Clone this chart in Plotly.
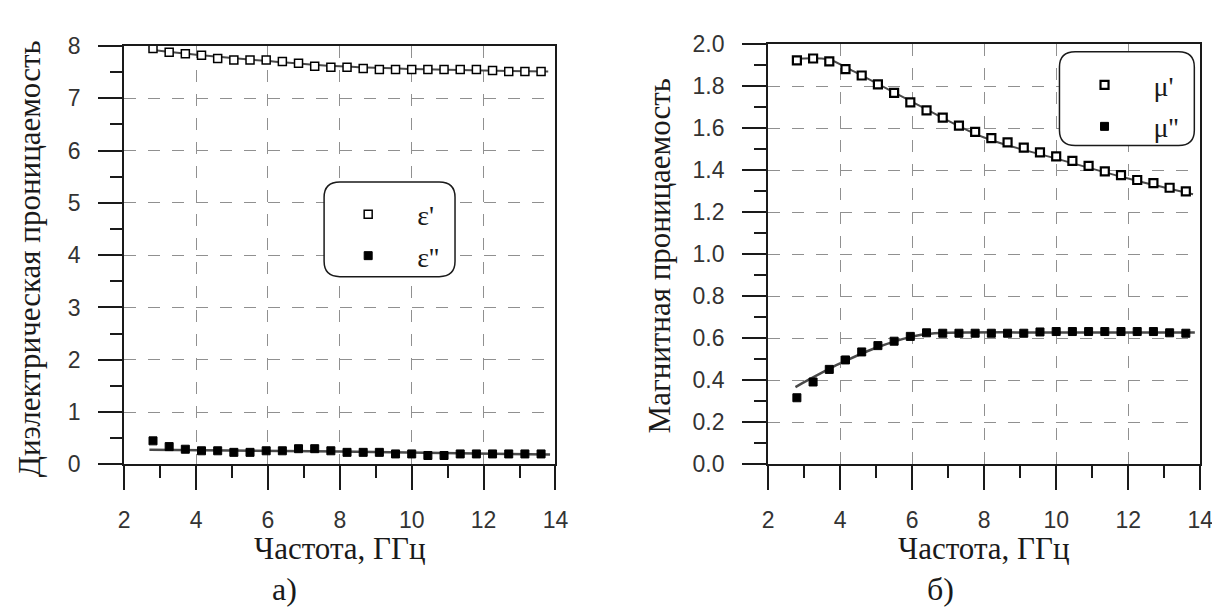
import plotly.graph_objects as go

# ---- data ----
freq = [2.80, 3.25, 3.70, 4.15, 4.60, 5.05, 5.50, 5.95, 6.40, 6.85, 7.30, 7.75, 8.20,
        8.65, 9.10, 9.55, 10.00, 10.45, 10.90, 11.35, 11.80, 12.25, 12.70, 13.15, 13.60]

eps_re = [7.95, 7.88, 7.85, 7.82, 7.76, 7.73, 7.73, 7.73, 7.70, 7.67, 7.61, 7.59, 7.59,
          7.57, 7.55, 7.55, 7.55, 7.55, 7.55, 7.55, 7.55, 7.53, 7.51, 7.51, 7.51]
eps_im = [0.45, 0.34, 0.29, 0.26, 0.26, 0.23, 0.23, 0.26, 0.26, 0.30, 0.30, 0.26, 0.23,
          0.23, 0.23, 0.20, 0.20, 0.17, 0.17, 0.20, 0.20, 0.20, 0.20, 0.20, 0.20]

mu_re = [1.922, 1.931, 1.917, 1.880, 1.850, 1.808, 1.767, 1.722, 1.684, 1.650, 1.612, 1.582, 1.552,
         1.532, 1.507, 1.484, 1.465, 1.444, 1.420, 1.394, 1.376, 1.353, 1.338, 1.316, 1.299]
mu_im = [0.317, 0.392, 0.452, 0.497, 0.535, 0.565, 0.586, 0.609, 0.626, 0.624, 0.624, 0.624, 0.624,
         0.624, 0.624, 0.630, 0.632, 0.632, 0.632, 0.632, 0.632, 0.632, 0.632, 0.626, 0.624]

# fitted curves
fit_eps_re_x = [2.8, 4.0, 6.0, 8.0, 10.0, 12.0, 13.8]
fit_eps_re_y = [7.92, 7.83, 7.71, 7.61, 7.56, 7.53, 7.51]
fit_eps_im_x = [2.7, 8.0, 13.85]
fit_eps_im_y = [0.28, 0.245, 0.19]
fit_mu_re_x = [2.8, 3.7, 4.2, 6.0, 8.0, 10.0, 12.0, 13.8]
fit_mu_re_y = [1.93, 1.925, 1.885, 1.725, 1.555, 1.455, 1.36, 1.285]
fit_mu_im_x = [2.76, 4.0, 5.0, 6.0, 6.5, 10.0, 13.85]
fit_mu_im_y = [0.368, 0.48, 0.555, 0.608, 0.622, 0.628, 0.628]

x_ticks = [2, 4, 6, 8, 10, 12, 14]

SERIF = "Liberation Serif"
SANS = "Liberation Sans"
INK = "#1a1a1a"
FITC = "#4a4a4a"

fig = go.Figure()

# left panel
fig.add_trace(go.Scatter(x=fit_eps_re_x, y=fit_eps_re_y, mode="lines", line=dict(color=FITC, width=2, shape="spline"),
                         showlegend=False, xaxis="x", yaxis="y", hoverinfo="skip"))
fig.add_trace(go.Scatter(x=fit_eps_im_x, y=fit_eps_im_y, mode="lines", line=dict(color=FITC, width=2.5, shape="spline"),
                         showlegend=False, xaxis="x", yaxis="y", hoverinfo="skip"))
fig.add_trace(go.Scatter(x=freq, y=eps_re, mode="markers", name="ε'",
                         marker=dict(symbol="square", size=8, color="white", line=dict(color="black", width=1.5)),
                         xaxis="x", yaxis="y", legend="legend", legendgroup="a"))
fig.add_trace(go.Scatter(x=freq, y=eps_im, mode="markers", name="ε''",
                         marker=dict(symbol="square", size=8, color="black", line=dict(color="black", width=1)),
                         xaxis="x", yaxis="y", legend="legend", legendgroup="b"))

# right panel
fig.add_trace(go.Scatter(x=fit_mu_re_x, y=fit_mu_re_y, mode="lines", line=dict(color=FITC, width=2, shape="spline"),
                         showlegend=False, xaxis="x2", yaxis="y2", hoverinfo="skip"))
fig.add_trace(go.Scatter(x=fit_mu_im_x, y=fit_mu_im_y, mode="lines", line=dict(color=FITC, width=2.5, shape="spline"),
                         showlegend=False, xaxis="x2", yaxis="y2", hoverinfo="skip"))
fig.add_trace(go.Scatter(x=freq, y=mu_re, mode="markers", name="μ'",
                         marker=dict(symbol="square", size=8, color="white", line=dict(color="black", width=2.2)),
                         xaxis="x2", yaxis="y2", legend="legend2", legendgroup="c"))
fig.add_trace(go.Scatter(x=freq, y=mu_im, mode="markers", name="μ''",
                         marker=dict(symbol="square", size=8, color="black", line=dict(color="black", width=1)),
                         xaxis="x2", yaxis="y2", legend="legend2", legendgroup="d"))

W, H = 1220, 614
def px_x(p):
    return p / W
def px_y(p):
    return 1 - p / H

common_axis = dict(
    showline=True, linecolor=INK, linewidth=2, mirror=True,
    ticks="outside", ticklen=24, tickwidth=1.6, tickcolor=INK,
    showgrid=True, gridcolor="#909090", gridwidth=1.4, griddash="12px,12px",
    zeroline=False, tickfont=dict(family=SANS, size=23, color="#333333"),
)

def minor(dt):
    return dict(ticks="outside", ticklen=12, tickwidth=1.6, tickcolor=INK, dtick=dt, showgrid=False)

fig.update_layout(
    width=W, height=H, autosize=False,
    margin=dict(l=0, r=0, t=0, b=0),
    paper_bgcolor="white", plot_bgcolor="white",
    xaxis=dict(domain=[px_x(112), px_x(550)], range=[2, 14], tickvals=x_ticks, anchor="y",
               minor=minor(1), ticklabelstandoff=10, **common_axis),
    yaxis=dict(domain=[px_y(463), px_y(26)], range=[0, 8], dtick=1, anchor="x",
               minor=minor(0.5), ticklabelstandoff=13, **common_axis),
    xaxis2=dict(domain=[px_x(766), px_x(1205)], range=[2, 14], tickvals=x_ticks, anchor="y2",
                minor=minor(1), ticklabelstandoff=10, **common_axis),
    yaxis2=dict(domain=[px_y(463), px_y(24)], range=[0, 2], dtick=0.2, tickformat=".1f", anchor="x2",
                minor=minor(0.1), ticklabelstandoff=13, **common_axis),
    legend=dict(x=px_x(310), y=px_y(176), xanchor="left", yanchor="top", bgcolor="rgba(0,0,0,0)",
                borderwidth=0, font=dict(family=SERIF, size=28, color=INK), itemwidth=88, tracegroupgap=2),
    legend2=dict(x=px_x(1058), y=px_y(41), xanchor="left", yanchor="top", bgcolor="rgba(0,0,0,0)",
                 borderwidth=0, font=dict(family=SERIF, size=28, color=INK), itemwidth=88, tracegroupgap=2),
    showlegend=True,
)

def rounded_rect(x0, y0, x1, y1, r):
    # pixel coords (top-left origin) -> paper coords path
    X = lambda v: v / W
    Y = lambda v: 1 - v / H
    rx, ry = r / W, r / H
    return (f"M {X(x0)+rx},{Y(y0)} L {X(x1)-rx},{Y(y0)} Q {X(x1)},{Y(y0)} {X(x1)},{Y(y0)-ry} "
            f"L {X(x1)},{Y(y1)+ry} Q {X(x1)},{Y(y1)} {X(x1)-rx},{Y(y1)} "
            f"L {X(x0)+rx},{Y(y1)} Q {X(x0)},{Y(y1)} {X(x0)},{Y(y1)+ry} "
            f"L {X(x0)},{Y(y0)-ry} Q {X(x0)},{Y(y0)} {X(x0)+rx},{Y(y0)} Z")

fig.add_shape(type="path", xref="paper", yref="paper", path=rounded_rect(315, 168, 448, 267, 16),
              line=dict(color=INK, width=1.5), fillcolor="white", layer="above")
fig.add_shape(type="path", xref="paper", yref="paper", path=rounded_rect(1062, 32, 1199, 130, 16),
              line=dict(color=INK, width=1.5), fillcolor="white", layer="above")

ann = [
    dict(text="Диэлектрическая проницаемость", x=px_x(16), y=px_y(248), textangle=-90, font=dict(family=SERIF, size=31, color=INK)),
    dict(text="Магнитная проницаемость", x=px_x(656), y=px_y(245), textangle=-90, font=dict(family=SERIF, size=31, color=INK)),
    dict(text="Частота, ГГц", x=px_x(331), y=px_y(551), font=dict(family=SERIF, size=31, color=INK)),
    dict(text="Частота, ГГц", x=px_x(985), y=px_y(551), font=dict(family=SERIF, size=31, color=INK)),
    dict(text="а)", x=px_x(275), y=px_y(593), font=dict(family=SERIF, size=32, color=INK)),
    dict(text="б)", x=px_x(941), y=px_y(593), font=dict(family=SERIF, size=32, color=INK)),
]
for a in ann:
    fig.add_annotation(xref="paper", yref="paper", xanchor="center", yanchor="middle", showarrow=False, **a)

fig.write_html("out.html")
